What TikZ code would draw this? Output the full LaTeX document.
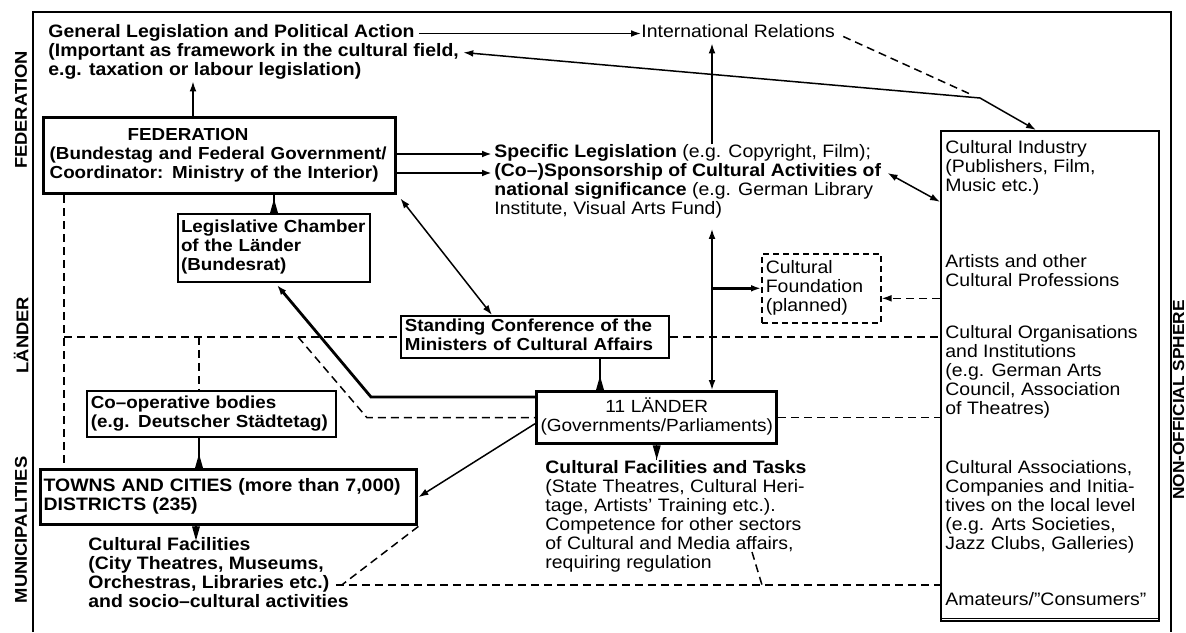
\documentclass[tikz,border=0pt]{standalone}
\usepackage{fontspec}
\setmainfont{Liberation Sans}[FakeStretch=1.08]
\usetikzlibrary{arrows.meta,calc}
\newcommand{\brk}{\\\strut}
\newcommand{\wedgeline}[2]{\draw[conn] (#1) -- (#2); \fill ($(#1)+(-4,0)$) -- ($(#1)!7pt!(#2)$) -- ($(#1)+(4,0)$) -- cycle;}
\begin{document}
\begin{tikzpicture}[x=0.5pt,y=-0.5pt,
  base/.style={font=\fontsize{9}{9.5}\selectfont},
  every node/.style={base},
  bft/.style={font=\fontsize{9}{9.5}\selectfont\bfseries},
  bbox/.style={font=\fontsize{8.7}{9.5}\selectfont\bfseries},
  txt/.style={anchor=west, inner sep=0pt, align=left, execute at begin node=\strut},
  box/.style={draw, anchor=north west, inner ysep=0pt, inner xsep=2pt, align=left, execute at begin node=\strut},
  heavy/.style={line width=1.7pt},
  conn/.style={line width=0.75pt},
  thk/.style={line width=1.4pt},
  dsh/.style={line width=0.75pt, dash pattern=on 4pt off 2.5pt},
  side/.style={rotate=90, font=\fontsize{8.5}{9}\selectfont\bfseries, inner sep=0pt},
  >={Latex[length=5pt,width=3.4pt]}]
\fill[white] (0,0) rectangle (1186,632);
\useasboundingbox (0,0) rectangle (1186,632);

% frame
\draw[line width=0.9pt] (33,632) -- (33,12) -- (1171,12) -- (1171,632);

% side labels
\node[side] (lfed) at (21,110) {FEDERATION};
\node[side] (llae) at (21,335) {LÄNDER};
\node[side] (lmun) at (21,530) {MUNICIPALITIES};
\node[side, font=\fontsize{8}{9}\selectfont\bfseries] (lnon) at (1178.5,400) {NON-OFFICIAL SPHERE};

% boxes
\node[box, bbox, heavy, inner xsep=3pt, text width=170pt, minimum height=38pt] (fed) at (42,116)
  {\hspace*{39pt}FEDERATION\brk \mbox{(Bundestag and Federal Government/}\brk \mbox{Coordinator: Ministry of the Interior)}};
\node[box, bbox, line width=1pt, inner xsep=1.5pt, text width=93pt, minimum height=34pt] (leg) at (177,213)
  {\mbox{Legislative Chamber}\brk of the Länder\brk (Bundesrat)};
\node[box, bbox, line width=0.9pt, text width=130pt, minimum height=21pt] (stand) at (400,315)
  {\mbox{Standing Conference of the}\brk \mbox{Ministers of Cultural Affairs}};
\node[box, line width=0.8pt, dash pattern=on 3pt off 2pt, text width=55.5pt, minimum height=34.5pt] (found) at (761,253)
  {Cultural\brk Foundation\brk (planned)};
\node[box, align=center, font=\fontsize{8.8}{9.5}\selectfont, heavy, inner xsep=1pt, text width=118pt, minimum height=26pt] (laender) at (535,390)
  {11 LÄNDER\brk \mbox{(Governments/Parliaments)}};
\node[box, bbox, line width=0.9pt, text width=120.5pt, minimum height=23pt] (coop) at (86,390)
  {Co--operative bodies\brk \mbox{(e.g. Deutscher Städtetag)}};
\node[box, bft, heavy, inner xsep=1.5pt, text width=185pt, minimum height=27.5pt] (towns) at (39,468)
  {\mbox{TOWNS AND CITIES (more than 7,000)}\brk DISTRICTS (235)};
\node[draw, anchor=north west, minimum width=109pt, minimum height=245pt, inner sep=0pt, line width=0.8pt] (right) at (940,130) {};
\draw[line width=0.8pt] ([yshift=1.5pt]right.south west) -- ([yshift=1.5pt]right.south east);

% texts
\node[txt,bft] (gl1) at (48,33.5) {General Legislation and Political Action};
\node[txt,bft] (gl2) at (48,52.5) {(Important as framework in the cultural field,};
\node[txt,bft] (gl3) at (48,71.5) {e.g. taxation or labour legislation)};
\node[txt] (intrel) at (641,33.5) {International Relations};
\node[txt] (sl1) at (494,154) {\textbf{Specific Legislation} (e.g. Copyright, Film);};
\node[txt] (sl2) at (494,173) {\textbf{(Co--)Sponsorship of Cultural Activities of}};
\node[txt] (sl3) at (494,192) {\textbf{national significance} (e.g. German Library};
\node[txt] (sl4) at (494,211) {Institute, Visual Arts Fund)};

\node[txt] (ci) at (945,169) {Cultural Industry\brk (Publishers, Film,\brk Music etc.)};
\node[txt] (art) at (945,273) {Artists and other\brk Cultural Professions};
\node[txt] (org) at (945,373) {Cultural Organisations\brk and Institutions\brk (e.g. German Arts\brk Council, Association\brk of Theatres)};
\node[txt] (assoc) at (945,508) {Cultural Associations,\brk Companies and Initia-\brk tives on the local level\brk (e.g. Arts Societies,\brk Jazz Clubs, Galleries)};
\node[txt] (amat) at (945,602) {Amateurs/"Consumers"};

\node[txt] (lt) at (545,517.5) {\textbf{Cultural Facilities and Tasks}\brk (State Theatres, Cultural Heri-\brk tage, Artists' Training etc.).\brk Competence for other sectors\brk of Cultural and Media affairs,\brk requiring regulation};

\node[txt,bft] (tt1) at (88,547) {Cultural Facilities};
\node[txt,bft] (tt2) at (88,566) {(City Theatres, Museums,};
\node[txt,bft] (tt3) at (88,585) {Orchestras, Libraries etc.)};
\node[txt,bft] (tt4) at (88,604) {and socio--cultural activities};

% helper coordinates
\coordinate (vx) at (712,0);
\coordinate (dx) at (64,0);
\coordinate (cx) at ([xshift=56.5pt]coop.north west);
\coordinate (kink) at (980,98);
\coordinate (ga) at ([xshift=75.5pt]fed.north west);
\coordinate (fe) at ([yshift=-5pt]found.east);
\coordinate (lnw) at ([yshift=-3.5pt]laender.north west);
\coordinate (b1) at ($(lnw)+(-164,0)$);
\coordinate (b2) at ([xshift=-84pt]laender.west);
\coordinate (d0) at ($(stand.west)+(-102,0)$);
\coordinate (tick) at (752,552);

% top connectors
\draw[conn,->] ([xshift=2pt]gl1.east) -- (intrel.west);
\draw[conn,<->] ([xshift=2pt]gl2.east) -- (kink) -- ([xshift=48pt]right.north west);
\draw[dsh] ([shift={(8,3)}]intrel.east) -- ([shift={(-10,-4)}]kink);
\draw[conn,->] (vx |- sl1.north) -- (vx |- intrel.south);
\draw[conn,->] (ga) -- (ga |- gl3.south);

% federation connectors
\draw[thk,->] (fed.east |- sl1.west) -- ([xshift=-1pt]sl1.west);
\draw[thk,->] (fed.east |- sl2.west) -- ([xshift=-1pt]sl2.west);
\draw[conn,<->] ([xshift=3pt]sl2.east) -- (right.west |- sl3.south);
\draw[conn,<->] ([shift={(3,3)}]fed.south east) -- ([xshift=46pt]stand.north west);
\coordinate (w1a) at (leg.north);
\coordinate (w1b) at (leg.north |- fed.south);
\wedgeline{w1a}{w1b}

% vertical and foundation
\draw[conn,<->] ($(vx |- sl4.south)+(0,8)$) -- (vx |- laender.north);
\draw[thk,->] (vx |- found.west) -- (found.west);
\draw[dsh,->] (right.west |- fe) -- (fe);

% standing conference
\draw[dsh] (stand.east) -- (right.west |- stand.east);
\coordinate (w2a) at ([xshift=32.5pt]laender.north west);
\coordinate (w2b) at (w2a |- stand.south);
\wedgeline{w2a}{w2b}

% laender connectors
\draw[thk,->] (lnw) -- (b1) -- ([shift={(3,2)}]leg.south);
\draw[dsh] (laender.east) -- (right.west |- laender.east);
\draw[conn,->] ([yshift=-3pt]laender.west) -- (towns.east);
\coordinate (w3a) at (laender.south);
\coordinate (w3b) at (laender.south |- lt.north);
\wedgeline{w3a}{w3b}

% dashed network
\draw[dsh] (dx |- fed.south) -- (dx |- towns.north);
\draw[dsh] (dx |- stand.west) -- (stand.west);
\draw[dsh] (cx |- stand.west) -- (cx);
\draw[dsh] (d0) -- (b2) -- (laender.west |- b2);

% municipalities
\coordinate (w4a) at (cx |- towns.north);
\coordinate (w4b) at (cx |- coop.south);
\wedgeline{w4a}{w4b}
\coordinate (w5a) at ([xshift=78.5pt]towns.south west);
\coordinate (w5b) at (w5a |- tt1.north);
\wedgeline{w5a}{w5b}
\draw[dsh] ([xshift=3pt]tt3.east) -- (right.west |- tt3.east);
\draw[dsh] (towns.south east) -- ([xshift=6pt]tt3.east);
\draw[dsh] (tick) -- ([xshift=5pt]tick |- tt3.east);
\end{tikzpicture}
\end{document}
